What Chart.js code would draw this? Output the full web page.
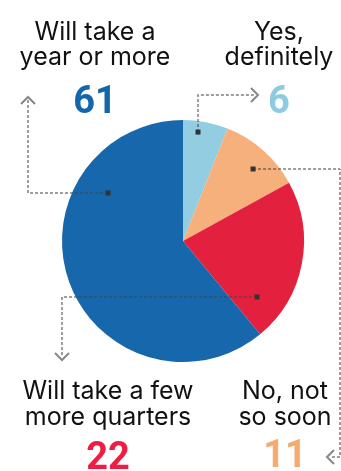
<!DOCTYPE html>
<html>
<head>
<meta charset="utf-8">
<script src="https://cdn.jsdelivr.net/npm/chart.js@4/dist/chart.umd.min.js"></script>
<style>
  html, body { margin: 0; padding: 0; background: #fff; }
  canvas { display: block; }
</style>
</head>
<body>
<canvas id="chartPie" width="341" height="471"></canvas>
<script>
// 回答ラベルと割合（%）
const labels = ['Yes, definitely', 'No, not so soon', 'Will take a few more quarters', 'Will take a year or more'];
const values = [6, 11, 22, 61];
const colors = ['#92cde2', '#f5b07c', '#e4203f', '#1767ad'];
const numColors = ['#8ccbe1', '#f6ab6c', '#ee1d43', '#1466ab'];

// ラベル配置（行ごと）
const labelLines = [
    ['Yes,', 'definitely'],
    ['No, not', 'so soon'],
    ['Will take a few', 'more quarters'],
    ['Will take a', 'year or more']
];
const labelPos = [
    {x: 279, y: 40, num: 113, gap: 25},
    {x: 285, y: 399, num: 467, gap: 26},
    {x: 108, y: 399, num: 469, gap: 26},
    {x: 95, y: 40, num: 113, gap: 25}
];
// 引き出し線：始点は円の中心からの相対（半径比）、以降は画面座標
const leaders = [
    {from: [0.124, -0.90], path: [[198, 95], [255, 95]], arrow: 'right', tip: [258, 95]},
    {from: [0.579, -0.595], path: [[340, 169], [340, 457], [330, 457]], arrow: 'left', tip: [327, 457]},
    {from: [0.612, 0.463], path: [[62, 297], [62, 357]], arrow: 'down', tip: [62, 360]},
    {from: [-0.62, -0.397], path: [[28, 193], [28, 100]], arrow: 'up', tip: [28, 97]}
];

const annotate = {
    id: 'annotate',
    afterDraw(chart) {
        const ctx = chart.ctx;
        const arc = chart.getDatasetMeta(0).data[0];
        const cx = arc.x, cy = arc.y, r = arc.outerRadius;
        ctx.save();
        // 引き出し線
        leaders.forEach(ld => {
            const sx = cx + ld.from[0] * r, sy = cy + ld.from[1] * r;
            ctx.strokeStyle = 'rgba(70,70,70,0.7)';
            ctx.lineWidth = 1.5;
            ctx.setLineDash([3, 2]);
            ctx.beginPath();
            ctx.moveTo(sx, sy);
            ctx.lineTo(ld.path[0][0], sy);
            ld.path.forEach(p => ctx.lineTo(p[0], p[1]));
            ctx.stroke();
            ctx.setLineDash([]);
            ctx.fillStyle = '#333';
            ctx.fillRect(sx - 2.5, sy - 2.5, 5, 5);
            // 矢印
            const [tx, ty] = ld.tip;
            const a = 7;
            ctx.strokeStyle = '#888';
            ctx.lineWidth = 2;
            ctx.beginPath();
            if (ld.arrow === 'up') { ctx.moveTo(tx - a, ty + a); ctx.lineTo(tx, ty); ctx.lineTo(tx + a, ty + a); }
            if (ld.arrow === 'down') { ctx.moveTo(tx - a, ty - a); ctx.lineTo(tx, ty); ctx.lineTo(tx + a, ty - a); }
            if (ld.arrow === 'right') { ctx.moveTo(tx - a, ty - a); ctx.lineTo(tx, ty); ctx.lineTo(tx - a, ty + a); }
            if (ld.arrow === 'left') { ctx.moveTo(tx + a, ty - a); ctx.lineTo(tx, ty); ctx.lineTo(tx + a, ty + a); }
            ctx.stroke();
        });
        // ラベルと数値
        ctx.textAlign = 'center';
        ctx.textBaseline = 'alphabetic';
        labelLines.forEach((lines, i) => {
            const p = labelPos[i];
            ctx.fillStyle = '#111';
            ctx.font = '25px Inter, Roboto, sans-serif';
            lines.forEach((t, j) => ctx.fillText(t, p.x, p.y + j * p.gap));
            ctx.fillStyle = numColors[i];
            ctx.font = 'bold 38px Roboto, "Noto Sans", sans-serif';
            ctx.fillText(String(values[i]), p.x, p.num);
        });
        ctx.restore();
    }
};

window.addEventListener('DOMContentLoaded', () => {
    const ctx = document.getElementById('chartPie').getContext('2d');
    new Chart(ctx, {
        type: 'pie',
        data: {
            labels: labels,
            datasets: [{
                data: values,
                backgroundColor: colors,
                borderWidth: 0
            }]
        },
        options: {
            responsive: false,
            animation: false,
            layout: {
                padding: {left: 62, right: 37, top: 120, bottom: 109}
            },
            plugins: {
                legend: {display: false},
                tooltip: {enabled: false}
            }
        },
        plugins: [annotate]
    });
});
</script>
</body>
</html>
